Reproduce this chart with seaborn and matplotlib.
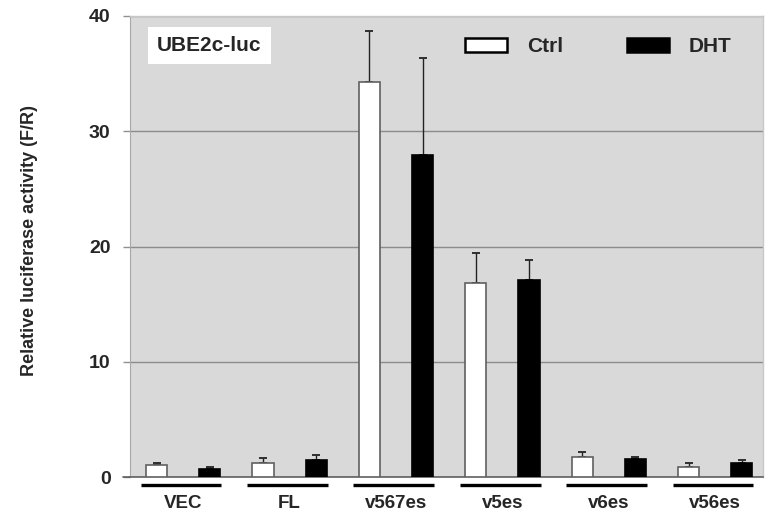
import numpy as np
import pandas as pd
import matplotlib
matplotlib.use("Agg")
import matplotlib.pyplot as plt
import matplotlib.transforms as mtransforms
from matplotlib.patches import Patch
import seaborn as sns

# Luciferase reporter data (UBE2c-luc), mean and upper SD per construct
groups = ["VEC", "FL", "v567es", "v5es", "v6es", "v56es"]
conditions = ["Ctrl", "DHT"]
ctrl_mean = [1.0, 1.24, 34.3, 16.8, 1.73, 0.9]
ctrl_err = [0.19, 0.44, 4.4, 2.66, 0.41, 0.29]
dht_mean = [0.67, 1.5, 27.9, 17.07, 1.59, 1.19]
dht_err = [0.23, 0.44, 8.45, 1.73, 0.17, 0.31]
y_ticks = [0, 10, 20, 30, 40]

df = pd.DataFrame({
    "group": groups * 2,
    "condition": ["Ctrl"] * len(groups) + ["DHT"] * len(groups),
    "value": ctrl_mean + dht_mean,
})
errs = {"Ctrl": ctrl_err, "DHT": dht_err}

sns.set_style("white")
plt.rcParams["font.family"] = ["Liberation Sans", "DejaVu Sans"]
plt.rcParams["font.weight"] = "bold"

fig = plt.figure(figsize=(7.69, 5.15), dpi=100)
ax = fig.add_axes([130 / 769, 38 / 515, 633 / 769, 461 / 515])
ax.set_facecolor("#d9d9d9")

sns.barplot(
    data=df, x="group", y="value", hue="condition", order=groups,
    hue_order=conditions, palette={"Ctrl": "white", "DHT": "black"},
    width=1.0, gap=0.6, errorbar=None, legend=False, ax=ax,
    edgecolor="#606060", linewidth=1.2, zorder=3,
)
for cont, cond in zip(ax.containers, conditions):
    xs = [b.get_x() + b.get_width() / 2 for b in cont]
    ys = [b.get_height() for b in cont]
    if cond == "DHT":
        for b in cont:
            b.set_edgecolor("black")
    ax.errorbar(xs, ys, yerr=[np.zeros(len(ys)), errs[cond]], fmt="none",
                ecolor="#222222", elinewidth=1.0, capsize=3, capthick=1.3,
                zorder=2)

ax.set_xlim(-0.5, 5.45)
ax.set_ylim(0, 40)
ax.set_yticks(y_ticks)
ax.yaxis.grid(True, color="#8c8c8c", linewidth=1.0)
ax.set_axisbelow(True)
ax.tick_params(axis="y", direction="out", length=5, width=1, color="#909090",
               pad=9, labelsize=14, left=True)
ax.tick_params(axis="x", length=0, pad=13, labelsize=13.5)
for lbl in ax.get_yticklabels() + ax.get_xticklabels():
    lbl.set_fontweight("bold")

ax.set_xlabel("")
ax.set_ylabel("Relative luciferase activity (F/R)", fontsize=13,
              fontweight="bold")
ax.yaxis.set_label_coords(-0.145, 0.514)

for side in ["top", "right"]:
    ax.spines[side].set_color("#c8c8c8")
    ax.spines[side].set_linewidth(1.0)
ax.spines["left"].set_color("#a8a8a8")
ax.spines["bottom"].set_color("#606060")
ax.spines["bottom"].set_linewidth(1.2)
# extend the baseline slightly left of the plot area
ax.plot([-0.565, -0.5], [0, 0], color="#606060", lw=1.2, clip_on=False)

# underlines below each construct label
trans = mtransforms.blended_transform_factory(ax.transData, ax.transAxes)
for i in range(len(groups)):
    ax.plot([i - 0.40, i + 0.36], [-0.0174, -0.0174], color="black", lw=2.4,
            transform=trans, clip_on=False, solid_capstyle="butt")

ax.text(0.125, 0.936, "UBE2c-luc", transform=ax.transAxes, ha="center",
        va="center", fontsize=15, fontweight="bold",
        bbox=dict(boxstyle="square,pad=0.45", facecolor="white",
                  edgecolor="none"), zorder=5)

handles = [Patch(facecolor="white", edgecolor="black", linewidth=1.8),
           Patch(facecolor="black", edgecolor="black", linewidth=1.8)]
leg = ax.legend(handles, conditions, loc="center left",
                bbox_to_anchor=((465 - 130) / 633, 1 - (47 - 16) / 461),
                ncol=2, frameon=False, borderpad=0, borderaxespad=0,
                handlelength=2.0, handleheight=0.67, handletextpad=0.96,
                columnspacing=3.1, prop={"size": 15, "weight": "bold"})

fig.savefig("out.png", dpi=100)
